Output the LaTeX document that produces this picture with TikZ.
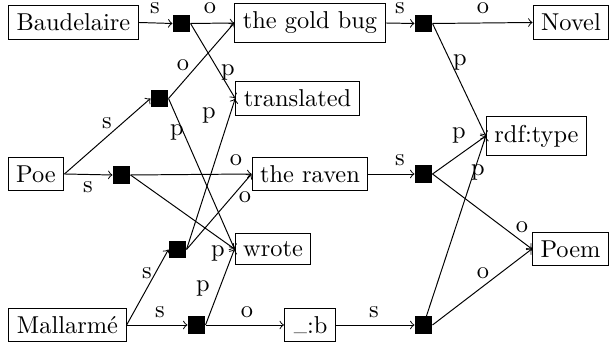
\documentclass[tikz,border=0pt]{standalone}
\begin{document}
\begin{tikzpicture}[x=0.4098pt,y=-0.4098pt,
  box/.style={draw,inner sep=3.33pt,line width=0.4pt},
  sq/.style={fill=black,inner sep=0pt,minimum size=7pt},
  lab/.style={inner sep=0pt},
  conn/.style={->,line width=0.4pt}]
\useasboundingbox (0,0) rectangle (610,345);
% resource nodes
\node[box] (baud) at (73.5,22.5) {Baudelaire};
\node[box] (gold) at (310,23) {the gold bug};
\node[box] (novel) at (571,22.5) {Novel};
\node[box] (transl) at (297.5,98.5) {translated};
\node[box] (rdf) at (536.5,136) {rdf:type};
\node[box] (poe) at (36,174) {Poe};
\node[box] (raven) at (310,174) {the raven};
\node[box] (wrote) at (273,249) {wrote};
\node[box] (poem) at (570.5,249) {Poem};
\node[box] (mal) at (67.5,325) {Mallarm\'e};
\node[box] (bnode) at (310,325) {\kern0.6pt\raisebox{0.7pt}{\fontsize{6}{7}\selectfont\_}:b};
% statement nodes
\node[sq] (sq1) at (181.5,23.5) {};
\node[sq] (sq2) at (423.5,23.5) {};
\node[sq] (sq3) at (159.5,98.5) {};
\node[sq] (sq4) at (121.5,175) {};
\node[sq] (sq5) at (423.5,174) {};
\node[sq] (sq6) at (177.5,249.5) {};
\node[sq] (sq7) at (196.5,325) {};
\node[sq] (sq8) at (423.5,325) {};
% connectors
\draw[conn] (baud.east) -- (sq1.west) node[lab,at={(155,8.5)}] {s};
\draw[conn] (sq1.east) -- (gold.west) node[lab,at={(210,8.5)}] {o};
\draw[conn] (sq1.east) -- (transl.west) node[lab,at={(228,72)}] {p};
\draw[conn] (gold.east) -- (sq2.west) node[lab,at={(400,8.5)}] {s};
\draw[conn] (sq2.east) -- (novel.west) node[lab,at={(483,8.5)}] {o};
\draw[conn] (sq2.east) -- (rdf.west) node[lab,at={(460,62)}] {p};
\draw[conn] (poe.east) -- (sq3.west) node[lab,at={(107,123)}] {s};
\draw[conn] (sq3.east) -- (gold.west) node[lab,at={(183,65)}] {o};
\draw[conn] (sq3.east) -- (wrote.west) node[lab,at={(177,132)}] {p};
\draw[conn] (poe.east) -- (sq4.west) node[lab,at={(88,187)}] {s};
\draw[conn] (sq4.east) -- (raven.west) node[lab,at={(236,160)}] {o};
\draw[conn] (sq4.east) -- (wrote.west) node[lab,at={(218,253)}] {p};
\draw[conn] (raven.east) -- (sq5.west) node[lab,at={(400,160)}] {s};
\draw[conn] (sq5.east) -- (rdf.west) node[lab,at={(459,135)}] {p};
\draw[conn] (sq5.east) -- (poem.west) node[lab,at={(522,227)}] {o};
\draw[conn] (mal.east) -- (sq6.west) node[lab,at={(147,273)}] {s};
\draw[conn] (sq6.east) -- (transl.west) node[lab,at={(209,115)}] {p};
\draw[conn] (sq6.east) -- (raven.west) node[lab,at={(245,197)}] {o};
\draw[conn] (mal.east) -- (sq7.west) node[lab,at={(160,312)}] {s};
\draw[conn] (sq7.east) -- (wrote.west) node[lab,at={(203,288)}] {p};
\draw[conn] (sq7.east) -- (bnode.west) node[lab,at={(247,312)}] {o};
\draw[conn] (bnode.east) -- (sq8.west) node[lab,at={(374,312)}] {s};
\draw[conn] (sq8) -- (rdf.west) node[lab,at={(478,172)}] {p};
\draw[conn] (sq8.east) -- (poem.west) node[lab,at={(483,273)}] {o};
\end{tikzpicture}
\end{document}
